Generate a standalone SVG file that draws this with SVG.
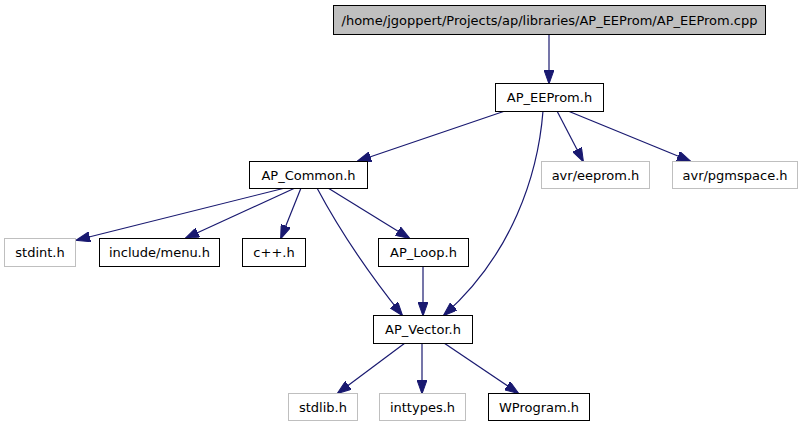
<svg xmlns="http://www.w3.org/2000/svg" width="803" height="427" viewBox="0 0 803 427">
<style>
.n rect{fill:#fff;stroke:#000;stroke-width:1}
.g rect{fill:#fff;stroke:#bfbfbf;stroke-width:1}
.r rect{fill:#bfbfbf;stroke:#000;stroke-width:1}
text{font-family:"DejaVu Sans",sans-serif;font-size:13px;text-anchor:middle;fill:#000}
#edges path{fill:none;stroke:#191970;stroke-width:1.2;marker-end:url(#a)}
</style>
<defs>
<marker id="a" markerUnits="userSpaceOnUse" markerWidth="14" markerHeight="10" refX="13" refY="5" orient="auto">
<path d="M0,0 L14,5 L0,10 z" fill="#191970" stroke="#191970" stroke-width="1"/>
</marker>
</defs>
<rect width="803" height="427" fill="#fff"/>
<g id="edges">
<path d="M549,35 L549,83"/>
<path d="M505,111 L358,161"/>
<path d="M543,111 C538,175 512,255 444,315"/>
<path d="M557,111 L583,161"/>
<path d="M568,111 L690,161"/>
<path d="M285,188 L77,240"/>
<path d="M295,188 L186,238"/>
<path d="M301,188 L281,238"/>
<path d="M328,188 L409,238"/>
<path d="M317,188 Q350,250 402,315"/>
<path d="M423,266 L423,315"/>
<path d="M405,343 L338,393"/>
<path d="M422,343 L422,393"/>
<path d="M444,343 L518,393"/>
</g>
<g id="root" class="r"><rect x="333.5" y="5.5" width="432" height="29"/><text x="549.5" y="24.5">/home/jgoppert/Projects/ap/libraries/AP_EEProm/AP_EEProm.cpp</text></g>
<g id="ap_eeprom_h" class="n"><rect x="495.5" y="83.5" width="108" height="28"/><text x="549.5" y="102">AP_EEProm.h</text></g>
<g id="ap_common_h" class="n"><rect x="249.5" y="161.5" width="118" height="27"/><text x="308.5" y="180">AP_Common.h</text></g>
<g id="avr_eeprom_h" class="g"><rect x="541.5" y="161.5" width="108" height="27"/><text x="595.5" y="180">avr/eeprom.h</text></g>
<g id="avr_pgmspace_h" class="g"><rect x="672.5" y="161.5" width="125" height="27"/><text x="735" y="180">avr/pgmspace.h</text></g>
<g id="stdint_h" class="g"><rect x="4.5" y="238.5" width="71" height="28"/><text x="40" y="257">stdint.h</text></g>
<g id="include_menu_h" class="n"><rect x="99.5" y="238.5" width="120" height="28"/><text x="159.5" y="257">include/menu.h</text></g>
<g id="cpp_h" class="n"><rect x="242.5" y="238.5" width="63" height="28"/><text x="274" y="257">c++.h</text></g>
<g id="ap_loop_h" class="n"><rect x="378.5" y="238.5" width="90" height="28"/><text x="423.5" y="257">AP_Loop.h</text></g>
<g id="ap_vector_h" class="n"><rect x="373.5" y="315.5" width="99" height="28"/><text x="423" y="334">AP_Vector.h</text></g>
<g id="stdlib_h" class="g"><rect x="288.5" y="393.5" width="69" height="27"/><text x="323" y="412">stdlib.h</text></g>
<g id="inttypes_h" class="g"><rect x="379.5" y="393.5" width="86" height="27"/><text x="422.5" y="412">inttypes.h</text></g>
<g id="wprogram_h" class="n"><rect x="488.5" y="393.5" width="101" height="27"/><text x="539" y="412">WProgram.h</text></g>
</svg>
